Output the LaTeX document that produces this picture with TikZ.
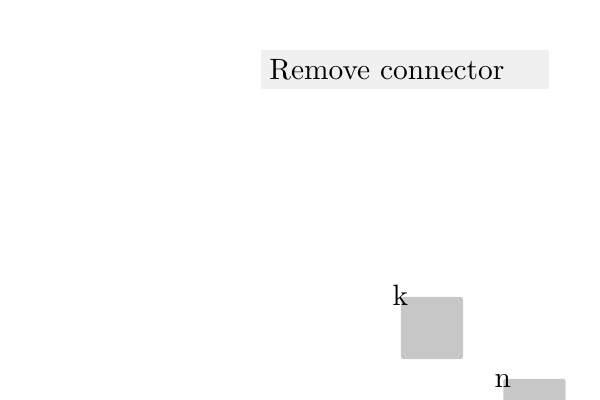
\documentclass[tikz,border=0pt]{standalone}
\usepackage{tikz}

\tikzset{
  item/.style={rectangle, rounded corners=0.7pt, fill=black!22, minimum size=21.1pt, inner sep=0pt},
  button/.style={rectangle, fill=black!6, anchor=west, inner xsep=3pt, inner ysep=0pt,
    minimum height=13.3pt, text width=91.9pt, align=left}
}

\begin{document}
\begin{tikzpicture}[x=0.34pt, y=-0.34pt]
  \useasboundingbox (0,0) rectangle (600,400);

  % Nodes
  \node[button] (remove) at (260,69.5) {Remove connector};
  \node[item, label={[anchor=base, yshift=-3pt]north west:k}] (k) at (432,328) {};
  \node[item, label={[anchor=base, yshift=-3pt]north west:n}] (n) at (534.5,410) {};
\end{tikzpicture}
\end{document}
